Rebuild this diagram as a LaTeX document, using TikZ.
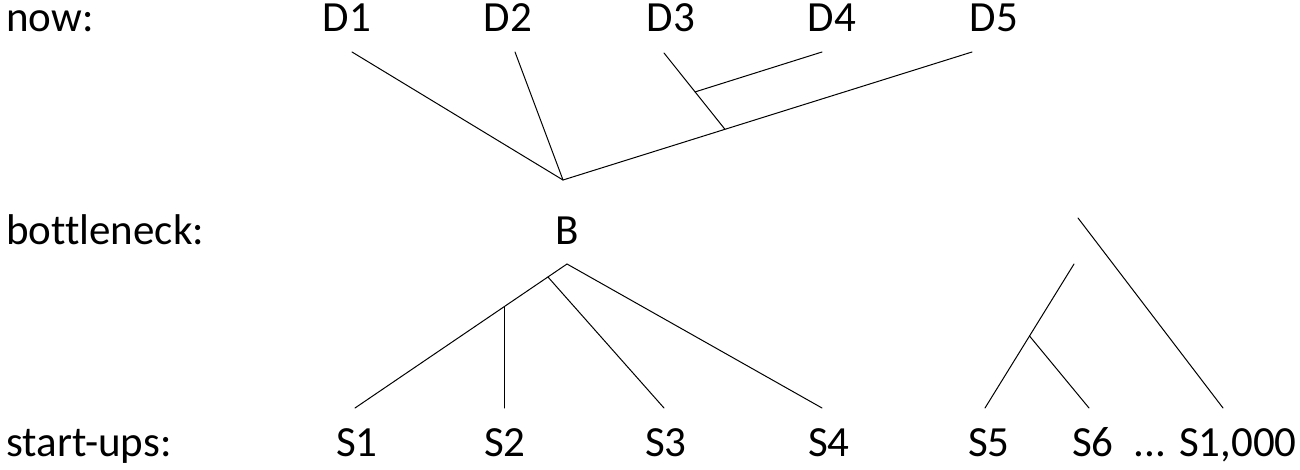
\documentclass[tikz,border=0pt]{standalone}
\usepackage{fontspec}
\setmainfont{Carlito}[Ligatures=NoCommon]
\usetikzlibrary{calc}

\begin{document}
\begin{tikzpicture}[x=1pt,y=-1pt,
  lbl/.style={anchor=base,inner sep=0pt,font=\fontsize{43}{50}\selectfont},
  branch/.style={line width=1pt,line cap=round}]
  \useasboundingbox (0,0) rectangle (1300,470);

  % row titles
  \node[lbl,anchor=base west] (now) at (6,32) {now:};
  \node[lbl,anchor=base west] (neck) at (6,244) {bottleneck:};
  \node[lbl,anchor=base west] (starts) at (6,456) {start-ups:};

  % descendants
  \node[lbl] (D1) at (347,32) {D1};
  \node[lbl] (D2) at (508,32) {D2};
  \node[lbl] (D3) at (671,32) {D3};
  \node[lbl] (D4) at (832,32) {D4};
  \node[lbl] (D5) at (994,32) {D5};
  \coordinate (tD1) at (352,52);
  \coordinate (tD2) at (515,52);
  \coordinate (tD3) at (664,53);
  \coordinate (tD4) at (822,52);
  \coordinate (tD5) at (972,52);
  \coordinate (root) at (563,180);
  \coordinate (jD5) at ($(root)!0.396!(tD5)$);
  \coordinate (jD4) at ($(tD3)!0.51!(jD5)$);
  \draw[branch] (tD1) -- (root) -- (tD5);
  \draw[branch] (tD2) -- (root);
  \draw[branch] (tD3) -- (jD5);
  \draw[branch] (jD4) -- (tD4);

  % bottleneck
  \node[lbl] (B) at (567,244) {B};
  \coordinate (apex) at (567,264);

  % start-ups
  \node[lbl] (S1) at (357,456) {S1};
  \node[lbl] (S2) at (505,456) {S2};
  \node[lbl] (S3) at (666,456) {S3};
  \node[lbl] (S4) at (829,456) {S4};
  \node[lbl] (S5) at (989,456) {S5};
  \node[lbl] (S6) at (1093,456) {S6};
  \node[lbl,anchor=base east] (Sn) at (1297,456) {... S1,000};
  \coordinate (tS1) at (355,408);
  \coordinate (tS3) at (664,408);
  \coordinate (tS4) at (822,408);
  \coordinate (tS5) at (985,408);
  \coordinate (tS6) at (1089,408);
  \coordinate (tSn) at (1223,408);
  \coordinate (jS3) at ($(apex)!0.09!(tS1)$);
  \coordinate (jS2) at ($(apex)!0.297!(tS1)$);
  \coordinate (tS2) at (jS2 |- tS1);
  \draw[branch] (tS1) -- (apex) -- (tS4);
  \draw[branch] (jS2) -- (tS2);
  \draw[branch] (jS3) -- (tS3);

  % extinct lines
  \coordinate (top5) at (1074,264);
  \coordinate (jS6) at ($(tS5)!0.5!(top5)$);
  \coordinate (topn) at (1078,218);
  \draw[branch] (tS5) -- (top5);
  \draw[branch] (jS6) -- (tS6);
  \draw[branch] (topn) -- (tSn);
\end{tikzpicture}
\end{document}
